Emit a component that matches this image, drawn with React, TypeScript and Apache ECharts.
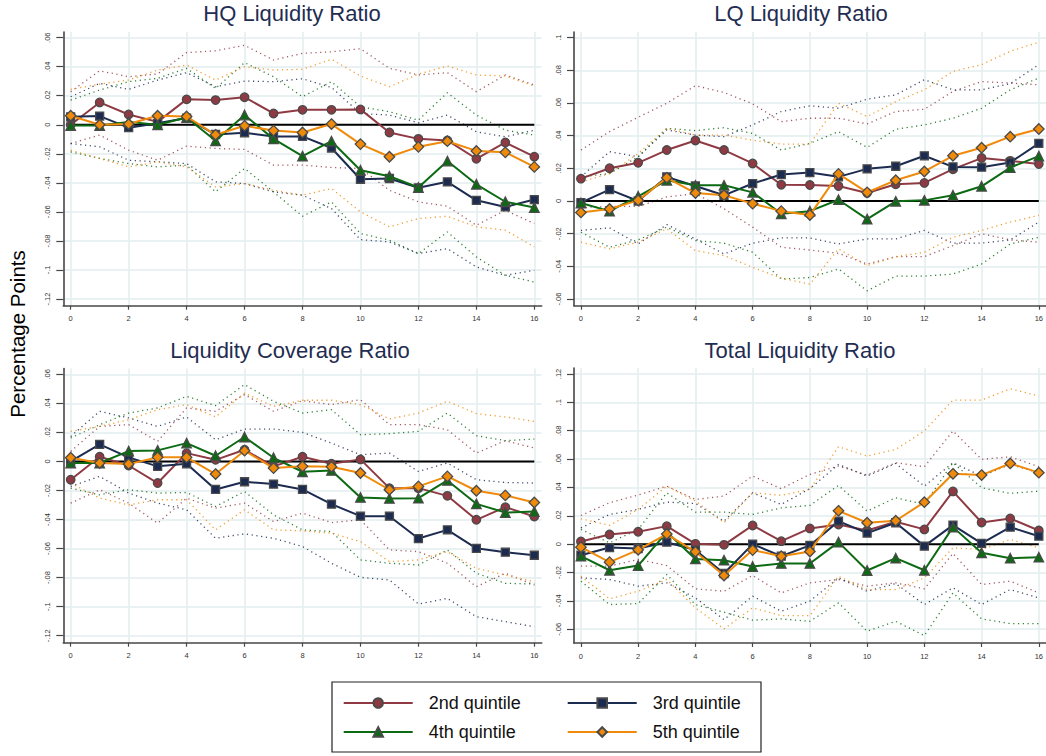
import React, { useEffect, useRef } from "react";
import * as echarts from "echarts";

// ---------- labels ----------
const horizons = [0, 1, 2, 3, 4, 5, 6, 7, 8, 9, 10, 11, 12, 13, 14, 15, 16];
const xTickValues = [0, 2, 4, 6, 8, 10, 12, 14, 16];
const yTicksHQ = [-0.12, -0.1, -0.08, -0.06, -0.04, -0.02, 0, 0.02, 0.04, 0.06];
const yTicksLQ = [-0.06, -0.04, -0.02, 0, 0.02, 0.04, 0.06, 0.08, 0.1];
const yTicksLCR = [-0.12, -0.1, -0.08, -0.06, -0.04, -0.02, 0, 0.02, 0.04, 0.06];
const yTicksTLR = [-0.06, -0.04, -0.02, 0, 0.02, 0.04, 0.06, 0.08, 0.1, 0.12];
const panelTitles = ["HQ Liquidity Ratio", "LQ Liquidity Ratio", "Liquidity Coverage Ratio", "Total Liquidity Ratio"];
const quintiles = ["2nd quintile", "3rd quintile", "4th quintile", "5th quintile"];
const yAxisTitle = "Percentage Points";

// ---------- HQ Liquidity Ratio ----------
const hqQ2 = [0.0, 0.0154, 0.0071, 0.002, 0.0175, 0.017, 0.019, 0.0078, 0.0103, 0.0103, 0.0106, -0.0053, -0.0097, -0.0108, -0.0234, -0.0122, -0.022];
const hqQ3 = [0.0055, 0.006, -0.002, 0.001, 0.0046, -0.0067, -0.0055, -0.008, -0.008, -0.016, -0.0375, -0.037, -0.0434, -0.0393, -0.052, -0.0566, -0.0515];
const hqQ4 = [-0.0005, -0.0005, 0.002, 0.0, 0.005, -0.011, 0.0067, -0.0097, -0.0216, -0.0113, -0.0313, -0.0354, -0.0432, -0.025, -0.041, -0.053, -0.057];
const hqQ5 = [0.0062, 0.0, 0.0005, 0.0062, 0.0057, -0.0069, -0.0007, -0.004, -0.0053, 0.0005, -0.0133, -0.022, -0.0152, -0.0113, -0.018, -0.019, -0.029];
const hqQ2Hi = [0.0228, 0.0372, 0.0331, 0.035, 0.0497, 0.051, 0.0547, 0.0446, 0.0492, 0.0503, 0.0524, 0.0389, 0.0343, 0.0359, 0.0228, 0.0343, 0.0274];
const hqQ2Lo = [-0.0129, -0.0071, -0.0175, -0.0244, -0.0147, -0.0163, -0.017, -0.0278, -0.0278, -0.0294, -0.0301, -0.0451, -0.0531, -0.0561, -0.0692, -0.0589, -0.068];
const hqQ3Hi = [0.0193, 0.0285, 0.0244, 0.0308, 0.0359, 0.0262, 0.0301, 0.0297, 0.0317, 0.0257, 0.0078, 0.0067, 0.0014, 0.0067, -0.0048, -0.0083, -0.0037];
const hqQ3Lo = [-0.0129, -0.0152, -0.0244, -0.0255, -0.0267, -0.0393, -0.0405, -0.0462, -0.0485, -0.0577, -0.0791, -0.0807, -0.0887, -0.0853, -0.0979, -0.1037, -0.1002];
const hqQ4Hi = [0.017, 0.0239, 0.0297, 0.032, 0.0389, 0.025, 0.0428, 0.0331, 0.0193, 0.0297, 0.0124, 0.009, 0.0032, 0.0221, 0.0067, -0.0037, -0.0071];
const hqQ4Lo = [-0.0186, -0.0232, -0.0267, -0.029, -0.0278, -0.0462, -0.0301, -0.0462, -0.063, -0.0531, -0.0749, -0.0795, -0.0887, -0.0738, -0.091, -0.1037, -0.1083];
const hqQ5Hi = [0.0244, 0.028, 0.0308, 0.0377, 0.0411, 0.0308, 0.04, 0.0377, 0.0382, 0.0451, 0.0336, 0.0262, 0.0349, 0.0405, 0.0343, 0.0336, 0.0267];
const hqQ5Lo = [-0.0175, -0.0232, -0.029, -0.0255, -0.029, -0.0428, -0.0405, -0.0451, -0.0485, -0.0439, -0.06, -0.0703, -0.0646, -0.063, -0.0703, -0.0726, -0.0841];

// ---------- LQ Liquidity Ratio ----------
const lqQ2 = [0.0137, 0.0201, 0.0234, 0.0312, 0.0371, 0.0312, 0.023, 0.01, 0.0098, 0.0092, 0.0049, 0.0103, 0.0111, 0.0195, 0.0263, 0.0246, 0.0226];
const lqQ3 = [-0.001, 0.007, 0.0, 0.0148, 0.0092, 0.0035, 0.0107, 0.0162, 0.0174, 0.0148, 0.0197, 0.0213, 0.0277, 0.0209, 0.0207, 0.0236, 0.0353];
const lqQ4 = [-0.0012, -0.0062, 0.0029, 0.0127, 0.0096, 0.0096, 0.0053, -0.0078, -0.0062, 0.0008, -0.0111, -0.0002, 0.0004, 0.0035, 0.009, 0.0205, 0.0275];
const lqQ5 = [-0.007, -0.0049, 0.0004, 0.0142, 0.0049, 0.0035, -0.0016, -0.0062, -0.0086, 0.0166, 0.0053, 0.0127, 0.0181, 0.0277, 0.0326, 0.0394, 0.0441];
const lqQ2Hi = [0.0312, 0.0425, 0.0513, 0.0599, 0.0706, 0.0665, 0.0595, 0.0486, 0.0507, 0.0507, 0.0472, 0.0548, 0.0562, 0.0671, 0.0732, 0.0722, 0.0712];
const lqQ2Lo = [-0.004, -0.0033, -0.0033, 0.0025, 0.0045, -0.0047, -0.016, -0.0283, -0.03, -0.032, -0.0386, -0.0341, -0.0341, -0.0273, -0.0201, -0.0238, -0.0252];
const lqQ3Hi = [0.0148, 0.0302, 0.0271, 0.0435, 0.0404, 0.0394, 0.0466, 0.0548, 0.0583, 0.0568, 0.0624, 0.065, 0.0743, 0.0681, 0.0681, 0.0718, 0.0835];
const lqQ3Lo = [-0.018, -0.0164, -0.0263, -0.0144, -0.0232, -0.0324, -0.0258, -0.0226, -0.0226, -0.0263, -0.0232, -0.0232, -0.018, -0.0258, -0.0258, -0.0238, -0.0129];
const lqQ4Hi = [0.0148, 0.0168, 0.0271, 0.0445, 0.0431, 0.0449, 0.0414, 0.0312, 0.0353, 0.0425, 0.0328, 0.0439, 0.0466, 0.0507, 0.0568, 0.0681, 0.0753];
const lqQ4Lo = [-0.0191, -0.0283, -0.0238, -0.016, -0.0242, -0.0258, -0.0314, -0.0478, -0.0468, -0.0416, -0.055, -0.046, -0.046, -0.0447, -0.0386, -0.0263, -0.0222];
const lqQ5Hi = [0.0117, 0.0168, 0.0291, 0.0445, 0.0404, 0.0404, 0.0373, 0.0349, 0.0349, 0.0599, 0.0517, 0.0609, 0.0681, 0.0794, 0.0835, 0.0917, 0.0972];
const lqQ5Lo = [-0.0252, -0.0293, -0.0252, -0.017, -0.0304, -0.0334, -0.0406, -0.0472, -0.0509, -0.0293, -0.0396, -0.0341, -0.0314, -0.0222, -0.018, -0.0129, -0.0088];

// ---------- Liquidity Coverage Ratio ----------
const lcrQ2 = [-0.0126, 0.0032, -0.0028, -0.0149, 0.0057, 0.0011, 0.008, -0.0034, 0.0032, -0.0016, 0.0014, -0.0184, -0.0184, -0.0237, -0.0402, -0.0315, -0.0379];
const lcrQ3 = [0.0, 0.0117, 0.0028, -0.0034, -0.0016, -0.0193, -0.014, -0.0156, -0.0193, -0.0294, -0.0377, -0.0377, -0.0531, -0.0471, -0.0598, -0.0625, -0.0646];
const lcrQ4 = [-0.0011, -0.0011, 0.0071, 0.0076, 0.0126, 0.0039, 0.0168, 0.0025, -0.0071, -0.0062, -0.0248, -0.0255, -0.0253, -0.0131, -0.0292, -0.0352, -0.0345];
const lcrQ5 = [0.0025, -0.0011, -0.0018, 0.0028, 0.0028, -0.0087, 0.0074, -0.0046, -0.0034, -0.0037, -0.008, -0.0195, -0.0172, -0.0103, -0.0202, -0.0234, -0.0283];
const lcrQ2Hi = [0.0069, 0.0241, 0.0253, 0.0138, 0.0368, 0.0345, 0.046, 0.0345, 0.0418, 0.0391, 0.0425, 0.0253, 0.0253, 0.0218, 0.0057, 0.0143, 0.0092];
const lcrQ2Lo = [-0.0287, -0.0195, -0.0287, -0.0425, -0.0253, -0.0322, -0.0287, -0.0414, -0.0356, -0.0421, -0.0402, -0.0609, -0.0621, -0.0701, -0.0862, -0.077, -0.0851];
const lcrQ3Hi = [0.0172, 0.0345, 0.0299, 0.0241, 0.0306, 0.0149, 0.0223, 0.0223, 0.02, 0.0126, 0.0046, 0.0057, -0.0069, -0.0011, -0.0126, -0.0145, -0.0149];
const lcrQ3Lo = [-0.0172, -0.0103, -0.0218, -0.0287, -0.0333, -0.0529, -0.0499, -0.0529, -0.0586, -0.0701, -0.0798, -0.0816, -0.0982, -0.0943, -0.1069, -0.1103, -0.1138];
const lcrQ4Hi = [0.0161, 0.0253, 0.0333, 0.0368, 0.0448, 0.0384, 0.0529, 0.0414, 0.0333, 0.0356, 0.0184, 0.0191, 0.0207, 0.0333, 0.0177, 0.0143, 0.0154];
const lcrQ4Lo = [-0.0184, -0.023, -0.0195, -0.0218, -0.0214, -0.031, -0.0207, -0.0368, -0.0471, -0.0483, -0.0678, -0.0701, -0.0713, -0.0609, -0.077, -0.0839, -0.0844];
const lcrQ5Hi = [0.0207, 0.0241, 0.0287, 0.0356, 0.0391, 0.0306, 0.0471, 0.0379, 0.0421, 0.0421, 0.0391, 0.0292, 0.0333, 0.0414, 0.0329, 0.0306, 0.0276];
const lcrQ5Lo = [-0.0149, -0.0253, -0.0299, -0.0264, -0.0264, -0.0471, -0.0333, -0.0471, -0.0478, -0.0494, -0.0552, -0.069, -0.0678, -0.0621, -0.0736, -0.0782, -0.0828];

// ---------- Total Liquidity Ratio ----------
const tlrQ2 = [0.0019, 0.0068, 0.0087, 0.0127, 0.0002, -0.0005, 0.0132, 0.0021, 0.0111, 0.0139, 0.0096, 0.0158, 0.0104, 0.0372, 0.0153, 0.0181, 0.0096];
const tlrQ3 = [-0.0078, -0.0024, -0.0031, 0.0014, -0.0042, -0.0207, 0.0, -0.0085, -0.0009, 0.0162, 0.0078, 0.0151, -0.0014, 0.0134, 0.0005, 0.012, 0.0056];
const tlrQ4 = [-0.0085, -0.0184, -0.0151, 0.0085, -0.0104, -0.0113, -0.0158, -0.0136, -0.0136, 0.0014, -0.0186, -0.0099, -0.0184, 0.012, -0.0061, -0.0099, -0.0092];
const tlrQ5 = [-0.0021, -0.0127, -0.004, 0.0071, -0.0054, -0.0221, -0.0042, -0.0085, -0.0052, 0.0235, 0.0151, 0.0165, 0.0296, 0.0496, 0.0487, 0.0569, 0.0504];
const tlrQ2Hi = [0.0202, 0.0292, 0.0346, 0.0409, 0.0315, 0.0339, 0.048, 0.0391, 0.0492, 0.0551, 0.0487, 0.0574, 0.0546, 0.0798, 0.0598, 0.0616, 0.0546];
const tlrQ2Lo = [-0.0155, -0.0155, -0.0108, -0.0151, -0.0315, -0.0332, -0.0221, -0.0344, -0.0273, -0.0249, -0.0296, -0.0273, -0.0315, -0.0066, -0.0285, -0.0261, -0.0344];
const tlrQ3Hi = [0.0115, 0.0209, 0.0245, 0.0296, 0.0287, 0.0162, 0.0362, 0.028, 0.0391, 0.0562, 0.048, 0.0569, 0.0409, 0.0574, 0.048, 0.0562, 0.0504];
const tlrQ3Lo = [-0.0238, -0.0249, -0.0296, -0.0273, -0.0379, -0.0532, -0.0367, -0.0473, -0.0402, -0.0238, -0.0332, -0.0278, -0.0426, -0.0308, -0.0426, -0.032, -0.0379];
const tlrQ4Hi = [0.0104, 0.0009, 0.0104, 0.0362, 0.0226, 0.0226, 0.0209, 0.0256, 0.0273, 0.0414, 0.0233, 0.0327, 0.028, 0.0574, 0.0398, 0.0358, 0.0374];
const tlrQ4Lo = [-0.0261, -0.0426, -0.0419, -0.0214, -0.0426, -0.048, -0.0536, -0.0527, -0.0544, -0.0414, -0.0614, -0.0544, -0.0645, -0.0344, -0.0527, -0.056, -0.056];
const tlrQ5Hi = [0.0179, 0.0132, 0.0245, 0.0409, 0.0304, 0.0151, 0.0362, 0.0344, 0.0386, 0.0687, 0.0621, 0.0668, 0.0798, 0.1016, 0.1016, 0.1096, 0.1045];
const tlrQ5Lo = [-0.0226, -0.0386, -0.0332, -0.0249, -0.0449, -0.0598, -0.0449, -0.0504, -0.0504, -0.0226, -0.032, -0.032, -0.0238, -0.0026, -0.0038, 0.0033, -0.0026];

// ---------- styling ----------
const FONT = "'Liberation Sans', Arial, Helvetica, sans-serif";
const colors = ["#8f3a43", "#1c2b50", "#0b6a12", "#ef8a0a"];
const symbols = ["circle", "rect", "triangle", "diamond"];
const symbolSizes = [8.5, 8, 9.5, 10.5];

const panels = [
  { est: [hqQ2, hqQ3, hqQ4, hqQ5], hi: [hqQ2Hi, hqQ3Hi, hqQ4Hi, hqQ5Hi], lo: [hqQ2Lo, hqQ3Lo, hqQ4Lo, hqQ5Lo], ticks: yTicksHQ },
  { est: [lqQ2, lqQ3, lqQ4, lqQ5], hi: [lqQ2Hi, lqQ3Hi, lqQ4Hi, lqQ5Hi], lo: [lqQ2Lo, lqQ3Lo, lqQ4Lo, lqQ5Lo], ticks: yTicksLQ },
  { est: [lcrQ2, lcrQ3, lcrQ4, lcrQ5], hi: [lcrQ2Hi, lcrQ3Hi, lcrQ4Hi, lcrQ5Hi], lo: [lcrQ2Lo, lcrQ3Lo, lcrQ4Lo, lcrQ5Lo], ticks: yTicksLCR },
  { est: [tlrQ2, tlrQ3, tlrQ4, tlrQ5], hi: [tlrQ2Hi, tlrQ3Hi, tlrQ4Hi, tlrQ5Hi], lo: [tlrQ2Lo, tlrQ3Lo, tlrQ4Lo, tlrQ5Lo], ticks: yTicksTLR },
];

const layouts = [
  { left: 63.3, top: 32, width: 478.4, height: 273.7, xMin: -0.255, xMax: 16.255, yMin: -0.1246, yMax: 0.0639, tx: 292, ty: 2 },
  { left: 574, top: 32, width: 477.5, height: 273.7, xMin: -0.242, xMax: 16.25, yMin: -0.0641, yMax: 0.1035, tx: 801, ty: 2 },
  { left: 63.3, top: 368.6, width: 478.4, height: 274.1, xMin: -0.255, xMax: 16.255, yMin: -0.1248, yMax: 0.0639, tx: 290, ty: 339 },
  { left: 574, top: 368, width: 477.5, height: 275, xMin: -0.242, xMax: 16.25, yMin: -0.0697, yMax: 0.1242, tx: 800, ty: 339 },
];

const fmtY = (v: number) => {
  const r = Math.round(Math.abs(v) * 100) / 100;
  if (r === 0) return "0";
  return (v < 0 ? "-" : "") + String(r).replace(/^0/, "");
};

function buildOption() {
  const grid: any[] = [];
  const xAxis: any[] = [];
  const yAxis: any[] = [];
  const title: any[] = [];
  const series: any[] = [];
  const axisColor = "#474747";
  const gridColor = "#e3ecef";

  panels.forEach((p, i) => {
    const L = layouts[i];
    grid.push({ left: L.left, top: L.top, width: L.width, height: L.height, containLabel: false });
    title.push({
      text: panelTitles[i], left: L.tx, top: L.ty, textAlign: "center", padding: 0,
      textStyle: { fontSize: 22, fontWeight: "normal", color: "#1f2d52", fontFamily: FONT },
    });
    xAxis.push({
      gridIndex: i, type: "value", min: L.xMin, max: L.xMax,
      axisLine: { show: true, onZero: false, lineStyle: { color: axisColor, width: 1.6 } },
      axisTick: { show: true, length: 4, customValues: xTickValues, lineStyle: { color: axisColor, width: 1.2 } },
      axisLabel: { customValues: xTickValues, fontSize: 7.5, margin: 9, color: "#333", fontFamily: FONT, formatter: (v: number) => String(v) },
      splitLine: { show: true, lineStyle: { color: gridColor, width: 1.5 } },
    });
    yAxis.push({
      gridIndex: i, type: "value", min: L.yMin, max: L.yMax,
      axisLine: { show: true, onZero: false, lineStyle: { color: axisColor, width: 1.6 } },
      axisTick: { show: true, length: 7, customValues: p.ticks, lineStyle: { color: axisColor, width: 1.2 } },
      axisLabel: { customValues: p.ticks, rotate: 90, fontSize: 7.5, margin: 12, color: "#333", fontFamily: FONT, formatter: fmtY },
      splitLine: { show: true, lineStyle: { color: gridColor, width: 1.5 } },
    });

    // confidence bands (dotted)
    for (let q = 0; q < 4; q++) {
      [p.hi[q], p.lo[q]].forEach((band) => {
        series.push({
          type: "line", xAxisIndex: i, yAxisIndex: i, silent: true, symbol: "none", z: 1,
          data: band.map((v, k) => [horizons[k], v]),
          lineStyle: { color: colors[q], width: 1.3, type: [1.2, 3.6], opacity: 0.85 },
        });
      });
    }
    // zero line
    series.push({
      type: "line", xAxisIndex: i, yAxisIndex: i, silent: true, symbol: "none", z: 2,
      data: [[horizons[0], 0], [horizons[horizons.length - 1], 0]],
      lineStyle: { color: "#000", width: 2 },
    });
    // point estimates
    for (let q = 0; q < 4; q++) {
      series.push({
        name: quintiles[q], type: "line", xAxisIndex: i, yAxisIndex: i, z: 3 + q,
        symbol: symbols[q], symbolSize: symbolSizes[q], showSymbol: true,
        data: p.est[q].map((v, k) => [horizons[k], v]),
        lineStyle: { color: colors[q], width: 2 },
        itemStyle: { color: colors[q], borderColor: "#4a4a4a", borderWidth: 1.3 },
      });
    }
  });

  const legendCommon = {
    orient: "horizontal", left: 342.7, itemWidth: 69, itemHeight: 12, itemGap: 38, padding: 0,
    selectedMode: false,
    textStyle: { fontSize: 18, color: "#111", fontFamily: FONT, width: 100, lineHeight: 20, padding: [0, 0, 0, 11] },
  };

  return {
    animation: false,
    backgroundColor: "#fff",
    title,
    grid,
    xAxis,
    yAxis,
    series,
    legend: [
      { ...legendCommon, top: 693, data: [quintiles[0], quintiles[1]] },
      { ...legendCommon, top: 722, data: [quintiles[2], quintiles[3]] },
    ],
    graphic: [
      {
        type: "rect", shape: { x: 332, y: 682, width: 429, height: 70 },
        style: { fill: "none", stroke: "#222", lineWidth: 1.2 }, silent: true,
      },
      {
        type: "text", x: 17, y: 334, rotation: Math.PI / 2, silent: true,
        style: { text: yAxisTitle, fontSize: 20.5, fill: "#000", fontFamily: FONT, textAlign: "center", textVerticalAlign: "middle" },
      },
    ],
  };
}

export default function App() {
  const ref = useRef<HTMLDivElement>(null);
  useEffect(() => {
    if (!ref.current) return;
    const chart = echarts.init(ref.current, null, { renderer: "svg" });
    chart.setOption(buildOption() as any);
    return () => chart.dispose();
  }, []);
  return (
    <div
      ref={ref}
      style={{ position: "fixed", left: 0, top: 0, width: 1046, height: 756, background: "#fff" }}
    />
  );
}
